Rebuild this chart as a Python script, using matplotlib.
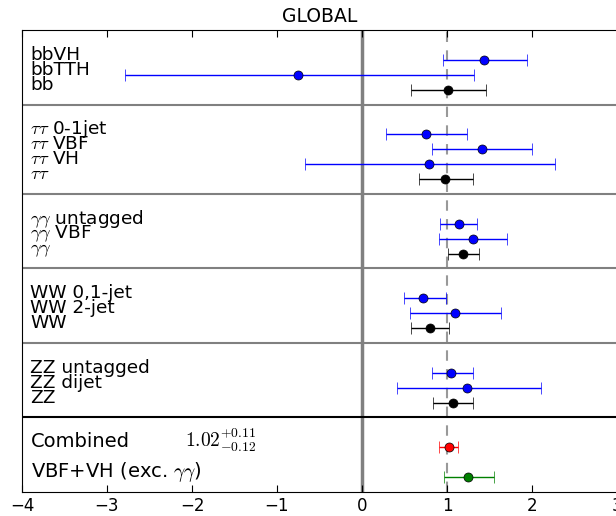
import matplotlib
matplotlib.use("Agg")
import matplotlib.pyplot as plt
import numpy as np

# channel rows (top to bottom), best-fit mu and asymmetric errors
labels = ["bbVH", "bbTTH", "bb",
          r"$\tau\tau$ 0-1jet", r"$\tau\tau$ VBF", r"$\tau\tau$ VH", r"$\tau\tau$",
          r"$\gamma\gamma$ untagged", r"$\gamma\gamma$ VBF", r"$\gamma\gamma$",
          "WW 0,1-jet", "WW 2-jet", "WW",
          "ZZ untagged", "ZZ dijet", "ZZ",
          "Combined", r"VBF+VH (exc. $\gamma\gamma$)"]
rows = [2, 3, 4, 7, 8, 9, 10, 13, 14, 15, 18, 19, 20, 23, 24, 25, 28, 30]
mu = [1.43, -0.75, 1.01, 0.75, 1.41, 0.79, 0.98, 1.14, 1.30, 1.19,
      0.72, 1.09, 0.80, 1.05, 1.24, 1.07, 1.02, 1.25]
err_lo = [0.48, 2.04, 0.43, 0.47, 0.59, 1.46, 0.31, 0.22, 0.40, 0.18,
          0.23, 0.53, 0.22, 0.23, 0.83, 0.23, 0.12, 0.28]
err_hi = [0.51, 2.07, 0.45, 0.49, 0.59, 1.48, 0.32, 0.21, 0.41, 0.19,
          0.27, 0.55, 0.22, 0.25, 0.86, 0.23, 0.11, 0.30]
colors = ["blue", "blue", "black", "blue", "blue", "blue", "black",
          "blue", "blue", "black", "blue", "blue", "black",
          "blue", "blue", "black", "red", "green"]
separators = [5, 11, 16, 21]
combined_sep = 26

fig = plt.figure(figsize=(6.16, 5.16), dpi=100)
ax = fig.add_axes([22 / 616, 24 / 516, 595 / 616, 462 / 516])

ax.axvline(0, color="0.5", lw=2.5, zorder=1)
ax.axvline(1, color="0.6", lw=1.5, ls=(0, (5, 4)), zorder=1)
for s in separators:
    ax.axhline(s, color="0.5", lw=1.5, zorder=1)
ax.axhline(combined_sep, color="black", lw=1.5, zorder=1)

for i in range(len(rows)):
    ax.errorbar(mu[i], rows[i], xerr=[[err_lo[i]], [err_hi[i]]], fmt="o",
                color=colors[i], ecolor=colors[i], elinewidth=1, capsize=4,
                markersize=6.5, markeredgecolor="k", markeredgewidth=0.5,
                zorder=3)
    if rows[i] > combined_sep:
        ax.text(-3.89, rows[i], labels[i], fontsize=14, va="baseline",
                ha="left", math_fontfamily="cm")
    else:
        ax.text(-3.90, rows[i], labels[i], fontsize=13.3, va="baseline",
                ha="left", math_fontfamily="cm")

ax.text(-2.08, 28, r"$1.02^{+0.11}_{-0.12}$", fontsize=14, va="baseline",
        ha="left", math_fontfamily="cm")

ax.set_xlim(-4, 3)
ax.set_ylim(31, 0)
ax.set_yticks([])
ax.set_xticks(np.arange(-4, 4))
ax.tick_params(axis="x", direction="in", top=True, length=5, labelsize=12)
ax.set_title("GLOBAL", fontsize=13.5)

fig.savefig("out.png", dpi=100)
